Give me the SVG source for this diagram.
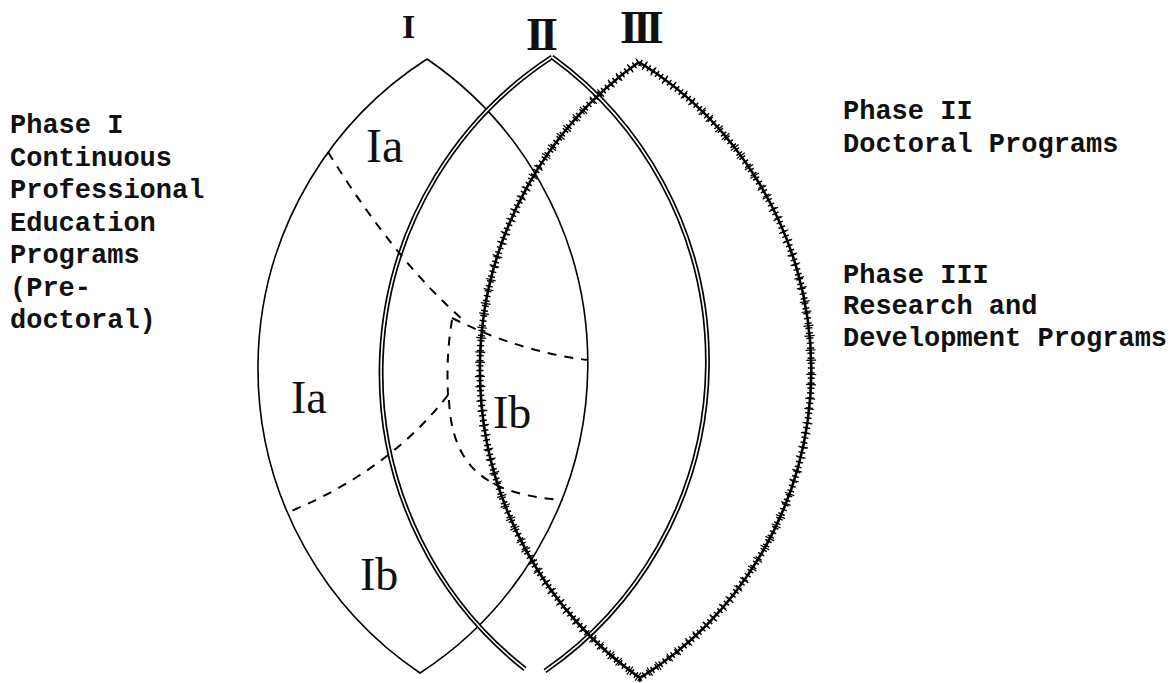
<svg xmlns="http://www.w3.org/2000/svg" width="1174" height="683" viewBox="0 0 1174 683">
<style>
.thin{fill:none;stroke:#000;stroke-width:1.6}
.dbl-o{fill:none;stroke:#000;stroke-width:5}
.dbl-i{fill:none;stroke:#fff;stroke-width:1.6}
.hatch-main{fill:none;stroke:#000;stroke-width:2.6}
.hatch-tick{fill:none;stroke:#000;stroke-width:7;stroke-dasharray:1.5 3.5}
.hatch-tick2{fill:none;stroke:#000;stroke-width:10;stroke-dasharray:1.2 9 1.2 13}
.dash{fill:none;stroke:#000;stroke-width:2;stroke-dasharray:9 8}
.type{font-family:"Liberation Mono","DejaVu Sans Mono",monospace;font-size:27px;font-weight:bold;fill:#111}
.hand{font-family:"Liberation Serif","DejaVu Serif",serif;fill:#111}
.num{font-family:"Liberation Serif","DejaVu Serif",serif;font-weight:bold;fill:#111}
</style>
<rect width="1174" height="683" fill="#fff"/>

<g id="lens-I">
<path class="thin" d="M427 59 A367.5 367.5 0 0 0 420 673 A369 369 0 0 0 427 59"/>
</g>

<g id="lens-II">
<path class="dbl-o" d="M552 57 A377 377 0 0 0 525 669"/>
<path class="dbl-i" d="M552 57 A377 377 0 0 0 525 669"/>
<path class="dbl-o" d="M545 671 A376 376 0 0 0 552 57"/>
<path class="dbl-i" d="M545 671 A376 376 0 0 0 552 57"/>
</g>

<g id="lens-III">
<path class="hatch-main" d="M639 62 A377 377 0 0 0 640 678 A362 362 0 0 0 639 62"/>
<path class="hatch-tick" d="M639 62 A377 377 0 0 0 640 678 A362 362 0 0 0 639 62"/>
<path class="hatch-tick2" d="M639 62 A377 377 0 0 0 640 678 A362 362 0 0 0 639 62"/>
</g>

<g id="dividers">
<path class="dash" d="M328 152 Q395 260 462 319"/>
<path class="dash" d="M452 318 Q520 352 588 360"/>
<path class="dash" d="M452 320 Q446 355 448 395"/>
<path class="dash" d="M448 395 Q390 470 289 512"/>
<path class="dash" d="M449 400 C452 470 490 495 563 500"/>
</g>

<g id="numerals">
<text class="num" x="402" y="38" font-size="34">I</text>
<text class="num" x="526" y="50" font-size="46" letter-spacing="-4">II</text>
<text class="num" x="620" y="43" font-size="46" letter-spacing="-5">III</text>
</g>

<g id="region-labels">
<text class="hand" x="366" y="162" font-size="48">Ia</text>
<text class="hand" x="291" y="413" font-size="46">Ia</text>
<text class="hand" x="493" y="428" font-size="46">Ib</text>
<text class="hand" x="360" y="590" font-size="46">Ib</text>
</g>

<g id="phase-I-text">
<text class="type" x="10" y="133">Phase I</text>
<text class="type" x="10" y="165.5">Continuous</text>
<text class="type" x="10" y="198">Professional</text>
<text class="type" x="10" y="230.5">Education</text>
<text class="type" x="10" y="263">Programs</text>
<text class="type" x="10" y="295.5">(Pre-</text>
<text class="type" x="10" y="328">doctoral)</text>
</g>

<g id="phase-II-text">
<text class="type" x="843" y="119">Phase II</text>
<text class="type" x="843" y="152">Doctoral Programs</text>
</g>

<g id="phase-III-text">
<text class="type" x="843" y="283">Phase III</text>
<text class="type" x="843" y="314">Research and</text>
<text class="type" x="843" y="346">Development Programs</text>
</g>
</svg>
